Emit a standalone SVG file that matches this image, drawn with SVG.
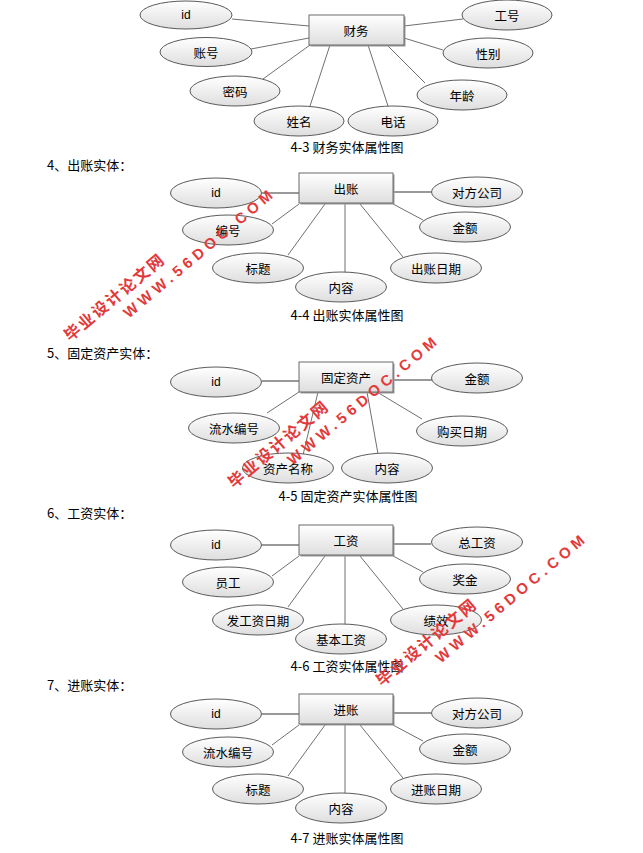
<svg xmlns="http://www.w3.org/2000/svg" width="643" height="853" viewBox="0 0 643 853">
<defs>
<linearGradient id="g" x1="0" y1="0" x2="0" y2="1">
<stop offset="0" stop-color="#ffffff"/>
<stop offset="1" stop-color="#dedede"/>
</linearGradient>
<style>
.bg{fill:#ffffff}
.ent{fill:url(#g);stroke:#6a6a6a;stroke-width:1}
.sh{fill:#9a9a9a}
.att{fill:url(#g);stroke:#5a5a5a;stroke-width:1}
.lbl{font-family:"Noto Sans CJK SC","Liberation Sans",sans-serif;font-size:12.5px;fill:#000;text-anchor:middle;dominant-baseline:central}
.en{font-family:"Liberation Sans","Noto Sans CJK SC",sans-serif;font-size:12px;fill:#000;text-anchor:middle;dominant-baseline:central}
.cap{font-family:"Noto Sans CJK SC",sans-serif;font-size:13px;fill:#000;text-anchor:middle}
.hdr{font-family:"Noto Sans CJK SC",sans-serif;font-size:13px;fill:#000}
.thin{stroke:#707070;stroke-width:1;fill:none}
.thick{stroke:#999999;stroke-width:2;fill:none}
.wm1{font-family:"Noto Sans CJK SC",sans-serif;font-weight:bold;font-size:16px;fill:#e23a3a;letter-spacing:2px}
.wm2{font-family:"Liberation Sans",sans-serif;font-weight:bold;font-size:15px;fill:#e23a3a;letter-spacing:4.5px}
</style>
</defs>
<rect class="bg" x="0" y="0" width="643" height="853"/>

<g id="connectors">
<line class="thin" x1="232" y1="19" x2="309" y2="26"/>
<line class="thin" x1="251" y1="49" x2="309" y2="38"/>
<line class="thin" x1="263" y1="79" x2="310" y2="45"/>
<line class="thin" x1="310" y1="106" x2="330" y2="45"/>
<line class="thin" x1="388" y1="106" x2="368" y2="45"/>
<line class="thin" x1="425" y1="83" x2="387" y2="45"/>
<line class="thin" x1="443" y1="50" x2="404" y2="38"/>
<line class="thin" x1="463" y1="19" x2="404" y2="26"/>
<line class="thick" x1="262" y1="193" x2="299" y2="193"/>
<line class="thick" x1="393" y1="192" x2="431" y2="192"/>
<line class="thin" x1="272" y1="224" x2="299" y2="204"/>
<line class="thin" x1="288" y1="255" x2="325" y2="204"/>
<line class="thin" x1="345" y1="273" x2="345" y2="204"/>
<line class="thin" x1="403" y1="257" x2="360" y2="204"/>
<line class="thin" x1="423" y1="220" x2="393" y2="204"/>
<line class="thick" x1="262" y1="381" x2="299" y2="381"/>
<line class="thick" x1="393" y1="380" x2="432" y2="380"/>
<line class="thin" x1="267" y1="413" x2="299" y2="392"/>
<line class="thin" x1="303" y1="455" x2="318" y2="392"/>
<line class="thin" x1="378" y1="454" x2="367" y2="392"/>
<line class="thin" x1="422" y1="419" x2="377" y2="392"/>
<line class="thick" x1="262" y1="545" x2="299" y2="545"/>
<line class="thick" x1="393" y1="544" x2="431" y2="544"/>
<line class="thin" x1="272" y1="576" x2="299" y2="556"/>
<line class="thin" x1="288" y1="607" x2="325" y2="556"/>
<line class="thin" x1="345" y1="625" x2="345" y2="556"/>
<line class="thin" x1="403" y1="609" x2="360" y2="556"/>
<line class="thin" x1="423" y1="572" x2="393" y2="556"/>
<line class="thick" x1="262" y1="714" x2="299" y2="714"/>
<line class="thick" x1="393" y1="713" x2="431" y2="713"/>
<line class="thin" x1="272" y1="745" x2="299" y2="725"/>
<line class="thin" x1="288" y1="776" x2="325" y2="725"/>
<line class="thin" x1="345" y1="794" x2="345" y2="725"/>
<line class="thin" x1="403" y1="778" x2="360" y2="725"/>
<line class="thin" x1="423" y1="741" x2="393" y2="725"/>
</g>

<g id="d1-entity"><rect class="sh" x="310.5" y="16.5" width="95" height="30"/><rect class="ent" x="309" y="15" width="95" height="30"/><text class="lbl" x="356" y="30">财务</text></g>
<g id="d1-id"><ellipse class="att" cx="186" cy="15" rx="46" ry="14"/><text class="en" x="186" y="15">id</text></g>
<g id="d1-zh"><ellipse class="att" cx="206" cy="52" rx="46" ry="14.5"/><text class="lbl" x="206" y="52">账号</text></g>
<g id="d1-mm"><ellipse class="att" cx="235" cy="91" rx="45" ry="15"/><text class="lbl" x="235" y="91">密码</text></g>
<g id="d1-xm"><ellipse class="att" cx="299" cy="121" rx="45" ry="15"/><text class="lbl" x="299" y="121">姓名</text></g>
<g id="d1-dh"><ellipse class="att" cx="393" cy="121" rx="45" ry="15"/><text class="lbl" x="393" y="121">电话</text></g>
<g id="d1-nl"><ellipse class="att" cx="462" cy="95" rx="45" ry="15"/><text class="lbl" x="462" y="95">年龄</text></g>
<g id="d1-xb"><ellipse class="att" cx="488" cy="53" rx="45" ry="15"/><text class="lbl" x="488" y="53">性别</text></g>
<g id="d1-gh"><ellipse class="att" cx="507" cy="15" rx="45" ry="15"/><text class="lbl" x="507" y="15">工号</text></g>
<text class="cap" x="347" y="152">4-3 财务实体属性图</text>

<text class="hdr" x="47" y="170">4、出账实体：</text>
<g id="d2-entity"><rect class="sh" x="300.5" y="174.5" width="94" height="30"/><rect class="ent" x="299" y="173" width="94" height="30"/><text class="lbl" x="346" y="188">出账</text></g>
<g id="d2-id"><ellipse class="att" cx="216" cy="193" rx="45.5" ry="15"/><text class="en" x="216" y="193">id</text></g>
<g id="d2-bh"><ellipse class="att" cx="228" cy="230" rx="45.5" ry="15"/><text class="lbl" x="228" y="230">编号</text></g>
<g id="d2-bt"><ellipse class="att" cx="258" cy="268" rx="45.5" ry="15"/><text class="lbl" x="258" y="268">标题</text></g>
<g id="d2-nr"><ellipse class="att" cx="341" cy="287" rx="45.5" ry="15"/><text class="lbl" x="341" y="287">内容</text></g>
<g id="d2-rq"><ellipse class="att" cx="436" cy="268" rx="45.5" ry="15"/><text class="lbl" x="436" y="268">出账日期</text></g>
<g id="d2-je"><ellipse class="att" cx="465" cy="227" rx="45.5" ry="15"/><text class="lbl" x="465" y="227">金额</text></g>
<g id="d2-df"><ellipse class="att" cx="477" cy="192" rx="45.5" ry="15"/><text class="lbl" x="477" y="192">对方公司</text></g>
<text class="cap" x="347" y="320">4-4 出账实体属性图</text>

<text class="hdr" x="47" y="358">5、固定资产实体：</text>
<g id="d3-entity"><rect class="sh" x="300.5" y="363.5" width="94" height="30"/><rect class="ent" x="299" y="362" width="94" height="30"/><text class="lbl" x="346" y="377">固定资产</text></g>
<g id="d3-id"><ellipse class="att" cx="216" cy="382" rx="45.5" ry="15"/><text class="en" x="216" y="382">id</text></g>
<g id="d3-ls"><ellipse class="att" cx="234" cy="428" rx="45.5" ry="15"/><text class="lbl" x="234" y="428">流水编号</text></g>
<g id="d3-mc"><ellipse class="att" cx="288" cy="468" rx="45.5" ry="15"/><text class="lbl" x="288" y="468">资产名称</text></g>
<g id="d3-nr"><ellipse class="att" cx="387" cy="468" rx="45.5" ry="15"/><text class="lbl" x="387" y="468">内容</text></g>
<g id="d3-gm"><ellipse class="att" cx="462" cy="431" rx="45.5" ry="15"/><text class="lbl" x="462" y="431">购买日期</text></g>
<g id="d3-je"><ellipse class="att" cx="477" cy="378" rx="45.5" ry="15"/><text class="lbl" x="477" y="378">金额</text></g>
<text class="cap" x="348" y="501">4-5 固定资产实体属性图</text>

<text class="hdr" x="47" y="518">6、工资实体：</text>
<g id="d4-entity"><rect class="sh" x="300.5" y="526.5" width="94" height="30"/><rect class="ent" x="299" y="525" width="94" height="30"/><text class="lbl" x="346" y="540">工资</text></g>
<g id="d4-id"><ellipse class="att" cx="216" cy="545" rx="45.5" ry="15"/><text class="en" x="216" y="545">id</text></g>
<g id="d4-yg"><ellipse class="att" cx="228" cy="582" rx="45.5" ry="15"/><text class="lbl" x="228" y="582">员工</text></g>
<g id="d4-fr"><ellipse class="att" cx="258" cy="620" rx="45.5" ry="15"/><text class="lbl" x="258" y="620">发工资日期</text></g>
<g id="d4-jb"><ellipse class="att" cx="341" cy="639" rx="45.5" ry="15"/><text class="lbl" x="341" y="639">基本工资</text></g>
<g id="d4-jx"><ellipse class="att" cx="436" cy="620" rx="45.5" ry="15"/><text class="lbl" x="436" y="620">绩效</text></g>
<g id="d4-jj"><ellipse class="att" cx="465" cy="579" rx="45.5" ry="15"/><text class="lbl" x="465" y="579">奖金</text></g>
<g id="d4-zg"><ellipse class="att" cx="477" cy="542" rx="45.5" ry="15"/><text class="lbl" x="477" y="542">总工资</text></g>
<text class="cap" x="347" y="671">4-6 工资实体属性图</text>

<text class="hdr" x="47" y="690">7、进账实体：</text>
<g id="d5-entity"><rect class="sh" x="300.5" y="695.5" width="94" height="30"/><rect class="ent" x="299" y="694" width="94" height="30"/><text class="lbl" x="346" y="709">进账</text></g>
<g id="d5-id"><ellipse class="att" cx="216" cy="714" rx="45.5" ry="15"/><text class="en" x="216" y="714">id</text></g>
<g id="d5-ls"><ellipse class="att" cx="228" cy="752" rx="45.5" ry="15"/><text class="lbl" x="228" y="752">流水编号</text></g>
<g id="d5-bt"><ellipse class="att" cx="258" cy="789" rx="45.5" ry="15"/><text class="lbl" x="258" y="789">标题</text></g>
<g id="d5-nr"><ellipse class="att" cx="341" cy="808" rx="45.5" ry="15"/><text class="lbl" x="341" y="808">内容</text></g>
<g id="d5-rq"><ellipse class="att" cx="436" cy="789" rx="45.5" ry="15"/><text class="lbl" x="436" y="789">进账日期</text></g>
<g id="d5-je"><ellipse class="att" cx="465" cy="749" rx="45.5" ry="15"/><text class="lbl" x="465" y="749">金额</text></g>
<g id="d5-df"><ellipse class="att" cx="477" cy="713" rx="45.5" ry="15"/><text class="lbl" x="477" y="713">对方公司</text></g>
<text class="cap" x="347" y="843">4-7 进账实体属性图</text>

<g id="wm1" transform="translate(70,342) rotate(-40)"><text class="wm1" x="0" y="0">毕业设计论文网</text><text class="wm2" x="60" y="20">WWW.56DOC.COM</text></g>
<g id="wm2" transform="translate(234,489) rotate(-40)"><text class="wm1" x="0" y="0">毕业设计论文网</text><text class="wm2" x="60" y="20">WWW.56DOC.COM</text></g>
<g id="wm3" transform="translate(382,687) rotate(-40)"><text class="wm1" x="0" y="0">毕业设计论文网</text><text class="wm2" x="60" y="20">WWW.56DOC.COM</text></g>
</svg>
